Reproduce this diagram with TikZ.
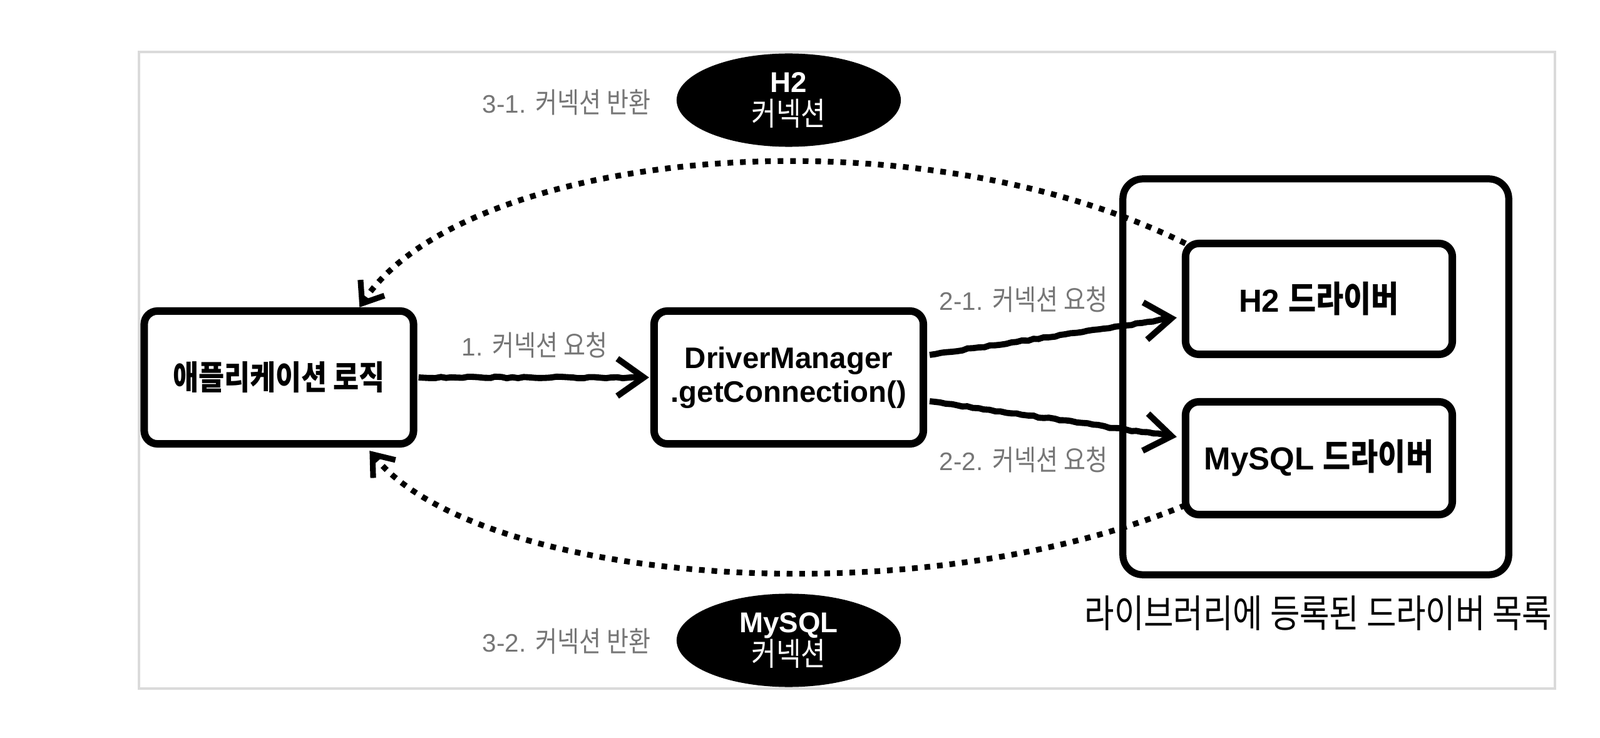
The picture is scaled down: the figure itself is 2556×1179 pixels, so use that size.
\documentclass[tikz,border=0pt]{standalone}
\usepackage{fontspec}
\setmainfont{Liberation Sans}
\newfontfamily\krfont[FakeStretch=0.84,Scale=1.12]{Noto Sans CJK KR}
\newcommand{\hg}[1]{{\krfont #1}}
\usetikzlibrary{arrows.meta,calc,shapes.geometric,decorations.pathmorphing}
\definecolor{labelgray}{RGB}{118,118,118}
\definecolor{framegray}{RGB}{218,218,218}
\tikzset{
  box/.style={draw, line width=3.4pt, rounded corners=6pt, inner sep=0pt, outer sep=0pt,
    align=center, font=\bfseries\fontsize{13.5}{15.4}\selectfont},
  libbox/.style={draw, line width=3.2pt, rounded corners=9pt, inner sep=0pt, outer sep=0pt},
  conn/.style={ellipse, fill=black, inner sep=0pt, outer sep=0pt, text=white, align=center,
    minimum width=3.58cm, minimum height=1.49cm, font=\bfseries\fontsize{13}{15}\selectfont},
  steplabel/.style={text=labelgray, inner sep=0pt, font=\fontsize{11.5}{13}\selectfont},
  req/.style={line width=2.8pt, decorate,
    decoration={random steps, segment length=2.5pt, amplitude=0.35pt},
    -{Straight Barb[length=12pt, width=17pt, line width=2.8pt]}},
  ret/.style={line width=2.6pt, dash pattern=on 2.6pt off 3.1pt,
    -{Straight Barb[length=8.5pt, width=13pt, line width=2.6pt]}}
}
\begin{document}
\begin{tikzpicture}[x=0.01cm, y=-0.01cm]
\path[fill=white, use as bounding box] (0,0) rectangle (2556,1179);
\draw[framegray, line width=1.1pt] (222,83) rectangle (2484,1100);

% main boxes
\node[box, minimum width=4.30cm, minimum height=2.12cm] (app) at (445.5,603) {\hg{애플리케이션 로직}};
\node[box, minimum width=4.30cm, minimum height=2.12cm] (dm) at (1260,603) {DriverManager\\.getConnection()};

% library box with drivers
\node[libbox, minimum width=6.16cm, minimum height=6.32cm] (lib) at (2102,602) {};
\node[box, minimum width=4.26cm, minimum height=1.77cm, font=\bfseries\fontsize{14.5}{16}\selectfont] (h2) at (2107,477.5) {H2 \hg{드라이버}};
\node[box, minimum width=4.26cm, minimum height=1.80cm, font=\bfseries\fontsize{14.5}{16}\selectfont] (mysql) at (2107,732) {MySQL \hg{드라이버}};
\node[inner sep=0pt, font=\fontsize{15.6}{17}\selectfont] (libl) at (2106,980) {\hg{라이브러리에 등록된 드라이버 목록}};

% connections
\node[conn] (h2c) at (1260,160) {H2\\\mdseries\hg{커넥션}};
\node[conn] (myc) at (1260,1023) {MySQL\\\mdseries\hg{커넥션}};

% labels
\node[steplabel] (l1) at (854,551) {1. \hg{커넥션 요청}};
\node[steplabel] (l21) at (1635,478) {2-1. \hg{커넥션 요청}};
\node[steplabel] (l22) at (1635,734) {2-2. \hg{커넥션 요청}};
\node[steplabel] (l31) at (905,163) {3-1. \hg{커넥션 반환}};
\node[steplabel] (l32) at (905,1024) {3-2. \hg{커넥션 반환}};

% request arrows
\draw[req] ($(app.east)+(8,0)$) -- ($(dm.west)+(-8,0)$);
\draw[req] ($(dm.east)+(10,-36)$) -- ($(h2.west)+(-14,30)$);
\draw[req] ($(dm.east)+(10,38)$) -- ($(mysql.west)+(-14,-34)$);

% return arrows
\draw[ret] (h2.north west) .. controls (1450,170) and (740,240) .. ($(app.north west)+(344,-6)$);
\draw[ret] ($(mysql.west)+(0,75)$) .. controls (1450,990) and (760,930) .. ($(app.south west)+(360,11)$);
\end{tikzpicture}
\end{document}
